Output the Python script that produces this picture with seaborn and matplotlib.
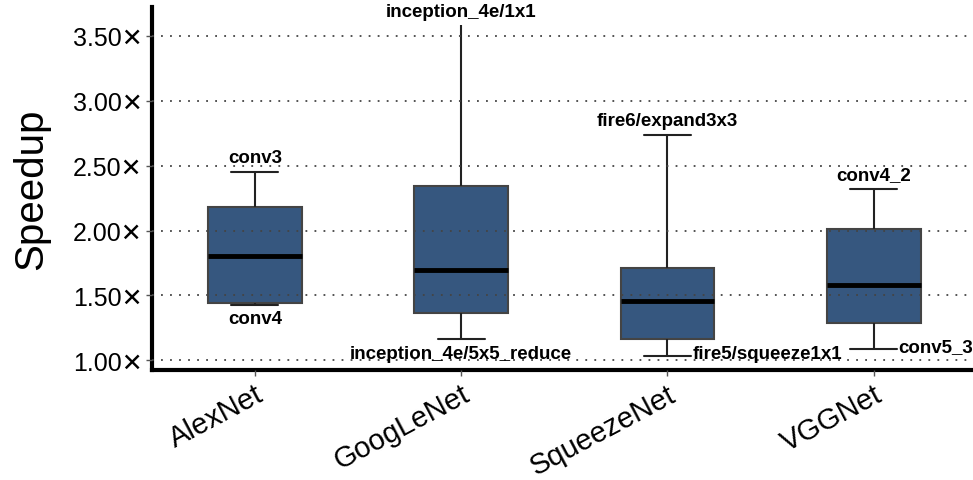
import matplotlib
matplotlib.use("Agg")
import matplotlib.pyplot as plt
import pandas as pd
import seaborn as sns

# Per-network speedup distribution summaries (min, quartiles, max)
networks = ["AlexNet", "GoogLeNet", "SqueezeNet", "VGGNet"]
mins = [1.43, 1.164, 1.038, 1.092]
q1s = [1.444, 1.369, 1.164, 1.292]
medians = [1.805, 1.695, 1.459, 1.577]
q3s = [2.182, 2.344, 1.71, 2.01]
maxs = [2.452, 3.58, 2.736, 2.323]

# Layers responsible for the extreme speedups
top_layers = ["conv3", "inception_4e/1x1", "fire6/expand3x3", "conv4_2"]
bottom_layers = ["conv4", "inception_4e/5x5_reduce", "fire5/squeeze1x1", "conv5_3"]

yticks = [1.0, 1.5, 2.0, 2.5, 3.0, 3.5]

rows = []
for net, a, b, c, d, e in zip(networks, mins, q1s, medians, q3s, maxs):
    for v in (a, b, c, d, e):
        rows.append({"network": net, "speedup": v})
df = pd.DataFrame(rows)

sns.set_theme(style="white")
plt.rcParams["font.family"] = ["Liberation Sans", "DejaVu Sans"]
plt.rcParams["text.color"] = "black"
plt.rcParams["axes.labelcolor"] = "black"
plt.rcParams["xtick.color"] = "black"
plt.rcParams["ytick.color"] = "black"

fig = plt.figure(figsize=(9.73, 4.81), dpi=100)
ax = fig.add_axes([0.156, 0.229, 0.848, 0.754])

box_w = 0.455
sns.boxplot(
    data=df, x="network", y="speedup", order=networks,
    whis=(0, 100), width=box_w, color="#36577f", saturation=1,
    linecolor="#222222", linewidth=1.5, showfliers=False,
    boxprops=dict(edgecolor="#444444"),
    medianprops=dict(color="black", linewidth=3.5),
    ax=ax,
)

# GoogLeNet's upper whisker is drawn without a cap
bp = ax.containers[0]
bp.caps[3].set_visible(False)

ax.set_xlim(-0.5, 3.5)
ax.set_ylim(0.928, 3.718)
ax.set_yticks(yticks)
ax.set_yticklabels([f"{v:.2f}\u2715" for v in yticks])

ax.yaxis.grid(True, linestyle=(0, (1, 4)), color="#444444", linewidth=1.3)
ax.xaxis.grid(False)
ax.set_axisbelow(False)

for side in ("top", "right"):
    ax.spines[side].set_visible(False)
for side in ("left", "bottom"):
    ax.spines[side].set_color("black")
    ax.spines[side].set_linewidth(3)

ax.tick_params(axis="y", which="major", length=4.5, width=1, color="#555555",
               labelcolor="black", labelsize=18, pad=2, left=True)
ax.tick_params(axis="x", which="major", length=4, width=1, color="#555555",
               labelcolor="black", labelsize=21, pad=3, bottom=True)
for lbl in ax.get_xticklabels():
    lbl.set_rotation(28)
    lbl.set_rotation_mode("anchor")
    lbl.set_ha("right")
    lbl.set_va("top")

ax.set_xlabel("")
ax.set_ylabel("Speedup", fontsize=29, labelpad=16, color="black")

# Annotate the layers at each whisker end
cap_half = box_w * 0.25
for i, (hi, lo, tl, bl) in enumerate(zip(maxs, mins, top_layers, bottom_layers)):
    ax.annotate(tl, (i, hi), xytext=(0, 4), textcoords="offset points",
                ha="center", va="bottom", fontsize=13.5, fontweight="bold")
    if i < 2:
        ax.annotate(bl, (i, lo), xytext=(0, -4), textcoords="offset points",
                    ha="center", va="top", fontsize=13.5, fontweight="bold")
    else:
        ax.annotate(bl, (i + cap_half, lo), xytext=(1, -2), textcoords="offset points",
                    ha="left", va="baseline", fontsize=13.5, fontweight="bold")

fig.savefig("out.png", dpi=100)
